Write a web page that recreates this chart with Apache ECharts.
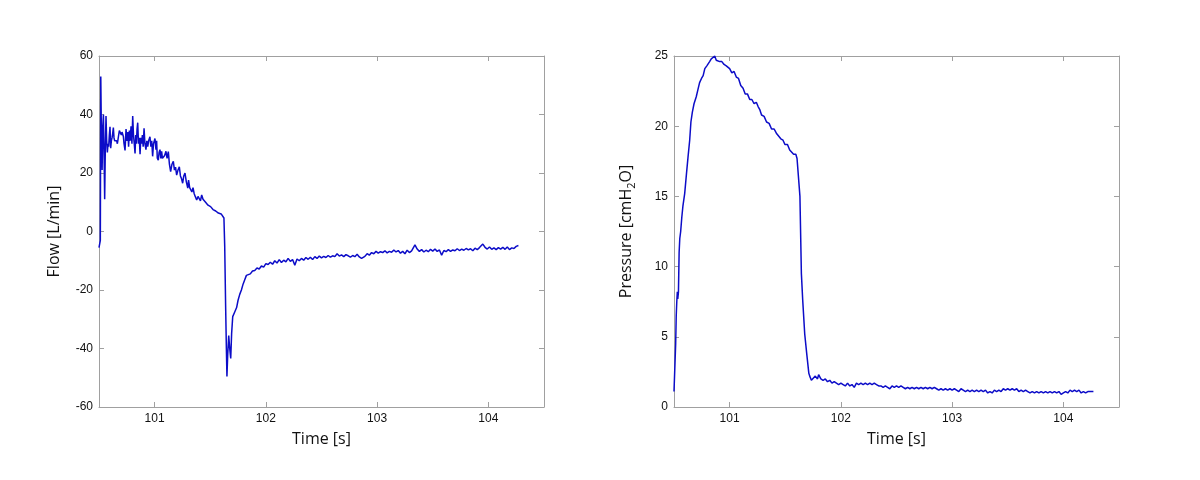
<!DOCTYPE html>
<html>
<head>
<meta charset="utf-8">
<script src="https://cdn.jsdelivr.net/npm/echarts@6/dist/echarts.min.js"></script>
<style>html,body{margin:0;padding:0;background:#fff;}#c{width:1200px;height:480px;}</style>
</head>
<body>
<div id="c"></div>
<script>
// ---- data ----
const timeTicks = [101, 102, 103, 104];

const flowTime = [
100.500,100.508,100.512,100.516,100.522,100.528,100.534,100.540,100.546,100.551,
100.557,100.563,100.569,100.575,100.581,100.587,100.593,100.599,100.605,100.611,
100.617,100.623,100.629,100.635,100.641,100.647,100.653,100.659,100.665,100.671,
100.677,100.683,100.689,100.695,100.701,100.707,100.713,100.719,100.725,100.734,
100.743,100.752,100.760,100.766,100.773,100.780,100.788,100.796,100.803,100.810,
100.817,100.824,100.830,100.836,100.842,100.848,100.855,100.862,100.869,100.876,
100.883,100.890,100.897,100.905,100.913,100.922,100.930,100.938,100.946,100.958,
100.966,100.974,100.982,100.990,101.003,101.012,101.018,101.024,101.033,101.040,
101.048,101.056,101.063,101.070,101.078,101.090,101.102,101.112,101.123,101.133,
101.144,101.156,101.168,101.178,101.188,101.198,101.210,101.222,101.232,101.242,
101.252,101.262,101.273,101.285,101.298,101.305,101.315,101.325,101.335,101.345,
101.355,101.365,101.378,101.390,101.400,101.412,101.423,101.435,101.447,101.458,
101.468,101.480,101.492,101.503,101.513,101.525,101.537,101.549,101.561,101.573,
101.585,101.598,101.611,101.623,101.630,101.638,101.645,101.650,101.657,101.666,
101.675,101.684,101.692,101.702,101.720,101.737,101.750,101.765,101.780,101.795,
101.810,101.825,101.842,101.860,101.880,101.900,101.920,101.940,101.960,101.980,
102.00,102.02,102.04,102.06,102.08,102.10,102.12,102.14,102.16,102.18,
102.20,102.22,102.24,102.26,102.28,102.30,102.32,102.34,102.36,102.38,
102.40,102.42,102.44,102.46,102.48,102.50,102.52,102.54,102.56,102.58,
102.60,102.62,102.64,102.66,102.68,102.70,102.72,102.74,102.76,102.78,
102.80,102.82,102.84,102.86,102.876,102.89,102.91,102.93,102.95,102.97,
102.99,103.01,103.03,103.05,103.07,103.09,103.11,103.13,103.15,103.17,
103.19,103.21,103.23,103.25,103.27,103.29,103.31,103.34,103.36,103.38,
103.40,103.42,103.44,103.46,103.48,103.50,103.52,103.54,103.56,103.58,
103.60,103.62,103.64,103.66,103.68,103.70,103.72,103.74,103.76,103.78,
103.80,103.82,103.84,103.86,103.88,103.90,103.92,103.95,103.97,103.99,
104.01,104.03,104.05,104.07,104.09,104.11,104.13,104.15,104.17,104.19,
104.21,104.23,104.25,104.27
];
const flowValues = [
-5.5,-5.0,-3.0,53,32,21,36,40,25,11,
29,39.5,31,27,30,29,33,35.8,28.5,31,
32,33.5,35.5,32,31,31.5,30.5,31,30,31.5,
33,34.5,35,34,33,34,33.5,32.5,30,27.7,
35,31,34,29,34.5,31,36,30,39.5,33,
30,26.7,33,30,35,37.2,30,32,26.4,32,
30,33,29,35.3,30,28,31,29,31,32.4,
29,31,25.7,30,31.8,28,31,25.1,24.4,27,
28,25,27.4,25,24.5,26,27.4,25,27.3,23,
20.5,23,24,21,22,19.3,21,22.1,19,18,
16.5,19,20,17,14.8,17.6,15,14.5,13.5,15,
13,12,10.8,12,11.5,10.5,12.5,11,10.5,10,
9.6,9,9.5,8.5,8,7.5,7.8,7,6.8,6.3,
6.2,6,5.7,4.6,-5,-25,-40,-49.6,-42,-35.6,
-40,-43.4,-35,-29.1,-27.5,-26,-23.5,-21.5,-20,-18,
-16.5,-15,-15.5,-14.5,-13.5,-13.3,-12.5,-12.8,-11.8,-12.2,
-11,-11.3,-10.5,-11.2,-10,-10.8,-9.6,-10.6,-9.8,-10.4,
-9.2,-10.2,-9.6,-11.5,-9.4,-10,-9.2,-9.8,-8.9,-9.5,
-8.8,-9.6,-8.6,-9.2,-8.4,-9,-8.5,-8.9,-8.2,-8.8,
-8.3,-8.6,-7.6,-8.4,-8.0,-8.6,-7.9,-8.3,-8.8,-8.2,
-8.6,-7.8,-8.7,-9.2,-9.8,-8.5,-7.6,-8.1,-7.2,-7.6,
-6.8,-7.4,-6.9,-7.2,-6.6,-7.3,-6.8,-7.1,-6.3,-7.0,
-6.5,-7.4,-6.8,-7.6,-6.4,-7.2,-6.6,-4.6,-6.0,-6.8,
-6.2,-7.0,-6.4,-6.9,-6.1,-6.7,-6.0,-6.8,-6.3,-8.1,
-6.5,-6.9,-6.2,-6.8,-6.3,-6.6,-5.9,-6.5,-6.0,-6.4,
-5.8,-6.3,-5.9,-6.6,-5.7,-6.2,-5.5,-4.3,-5.4,-6.0,
-5.3,-6.1,-5.6,-6.2,-5.5,-6.0,-5.4,-6.1,-5.3,-6.2,
-5.6,-5.8,-5.1,-4.8
];

const pressureTime = [
100.500,100.509,100.515,100.520,100.525,100.530,100.534,100.540,100.546,100.552,
100.560,100.570,100.580,100.596,100.612,100.626,100.641,100.652,100.665,100.680,
100.700,100.715,100.730,100.747,100.762,100.777,100.795,100.820,100.835,100.851,
100.866,100.880,100.895,100.911,100.930,100.950,100.970,100.985,101.000,101.020,
101.040,101.060,101.080,101.100,101.121,101.140,101.160,101.181,101.200,101.220,
101.240,101.256,101.270,101.287,101.310,101.332,101.355,101.377,101.400,101.420,
101.436,101.460,101.480,101.497,101.520,101.540,101.557,101.575,101.595,101.606,
101.616,101.632,101.645,101.657,101.675,101.693,101.712,101.720,101.735,101.750,
101.77,101.79,101.80,101.82,101.84,101.86,101.88,101.90,101.92,101.94,
101.96,101.98,102.00,102.02,102.04,102.06,102.08,102.10,102.12,102.14,
102.16,102.18,102.20,102.22,102.24,102.26,102.28,102.30,102.32,102.34,
102.36,102.38,102.40,102.42,102.44,102.46,102.48,102.50,102.52,102.54,
102.56,102.58,102.60,102.62,102.64,102.66,102.68,102.70,102.72,102.74,
102.76,102.78,102.80,102.82,102.84,102.86,102.88,102.90,102.92,102.94,
102.96,102.98,103.00,103.02,103.04,103.06,103.08,103.10,103.12,103.14,
103.16,103.18,103.20,103.22,103.24,103.26,103.28,103.30,103.32,103.34,
103.36,103.38,103.40,103.42,103.44,103.46,103.48,103.50,103.52,103.54,
103.56,103.58,103.60,103.62,103.64,103.66,103.68,103.70,103.72,103.74,
103.76,103.78,103.80,103.82,103.84,103.86,103.88,103.90,103.92,103.94,
103.96,103.98,104.00,104.02,104.04,104.06,104.08,104.10,104.12,104.14,
104.16,104.18,104.20,104.22,104.24,104.27
];
const pressureValues = [
1.1,1.1,4.5,6.5,7.5,8.2,7.7,8.2,11,12,
12.5,13.5,14.3,15.2,16.6,17.8,19.0,20.3,21.0,21.6,
22.1,22.6,23.1,23.4,23.6,24.1,24.3,24.6,24.8,24.9,
25.0,24.7,24.8,24.6,24.6,24.4,24.3,24.2,24.1,23.8,
23.9,23.5,23.4,22.9,22.7,22.3,22.3,21.9,21.9,21.6,
21.7,21.4,21.2,20.8,20.7,20.3,20.2,19.8,19.8,19.5,
19.5,19.1,19.0,18.7,18.7,18.3,18.3,18.0,18.0,17.7,
17.6,15.0,9.5,7.6,5.2,3.8,2.4,2.2,1.9,2.0,
2.2,2.0,2.3,2.0,1.9,2.0,1.8,1.9,1.7,1.8,
1.7,1.6,1.7,1.6,1.5,1.7,1.5,1.6,1.4,1.7,
1.6,1.7,1.6,1.7,1.6,1.7,1.6,1.7,1.6,1.5,
1.5,1.4,1.5,1.4,1.3,1.5,1.4,1.5,1.4,1.5,
1.4,1.3,1.4,1.3,1.4,1.3,1.4,1.3,1.4,1.3,
1.4,1.3,1.4,1.3,1.4,1.3,1.2,1.3,1.2,1.3,
1.2,1.3,1.2,1.3,1.2,1.1,1.3,1.2,1.1,1.2,
1.1,1.2,1.1,1.2,1.1,1.2,1.1,1.2,1.0,1.1,
1.0,1.2,1.1,1.2,1.1,1.3,1.2,1.3,1.2,1.3,
1.2,1.3,1.1,1.2,1.1,1.2,1.1,1.0,1.1,1.0,
1.1,1.0,1.1,1.0,1.1,1.0,1.1,1.0,1.1,1.0,
1.1,0.9,1.0,1.1,1.0,1.2,1.1,1.2,1.1,1.2,
1.0,1.1,1.0,1.1,1.1,1.1
];

// ---- chart ----
const lineColor = '#0c0cc8';
const boxColor = '#a0a0a0';
const tickFont = { color: '#111', fontFamily: 'Liberation Sans', fontSize: 12 };
const nameFont = { color: '#111', fontFamily: 'Open Sans', fontSize: 16 };

function xAxes(gi) {
  return [
    { type: 'value', gridIndex: gi, position: 'bottom', min: 100.5, max: 104.5,
      name: 'Time [s]', nameLocation: 'middle', nameGap: 24, nameTextStyle: nameFont,
      axisLine: { show: true, onZero: false, lineStyle: { color: boxColor, width: 1 } },
      axisTick: { show: true, inside: true, length: 5, customValues: timeTicks, lineStyle: { color: boxColor } },
      axisLabel: { show: true, customValues: timeTicks, margin: 6, ...tickFont },
      splitLine: { show: false } },
    { type: 'value', gridIndex: gi, position: 'top', min: 100.5, max: 104.5,
      axisLine: { show: true, onZero: false, lineStyle: { color: boxColor, width: 1 } },
      axisTick: { show: true, inside: true, length: 5, customValues: timeTicks, lineStyle: { color: boxColor } },
      axisLabel: { show: false }, splitLine: { show: false } }
  ];
}
function yAxes(gi, min, max, interval, name, rich) {
  return [
    { type: 'value', gridIndex: gi, position: 'left', min: min, max: max, interval: interval,
      name: name, nameLocation: 'middle', nameGap: 37,
      nameTextStyle: Object.assign({}, nameFont, rich ? { rich: rich, lineHeight: 22 } : {}),
      axisLine: { show: true, onZero: false, lineStyle: { color: boxColor, width: 1 } },
      axisTick: { show: true, inside: true, length: 5, lineStyle: { color: boxColor } },
      axisLabel: { show: true, margin: 6, ...tickFont },
      splitLine: { show: false } },
    { type: 'value', gridIndex: gi, position: 'right', min: min, max: max, interval: interval,
      axisLine: { show: true, onZero: false, lineStyle: { color: boxColor, width: 1 } },
      axisTick: { show: true, inside: true, length: 5, lineStyle: { color: boxColor } },
      axisLabel: { show: false }, splitLine: { show: false } }
  ];
}

const chart = echarts.init(document.getElementById('c'), null, { renderer: 'canvas' });
const subRich = {
  main: { fontFamily: 'Open Sans', fontSize: 16, color: '#111', lineHeight: 22 },
  sub: { fontFamily: 'Open Sans', fontSize: 11, color: '#111', lineHeight: 11, verticalAlign: 'bottom' }
};
chart.setOption({
  animation: false,
  backgroundColor: '#fff',
  grid: [
    { left: 99, top: 56, width: 445, height: 351, outerBoundsMode: 'none', containLabel: false },
    { left: 674, top: 56, width: 445, height: 351, outerBoundsMode: 'none', containLabel: false }
  ],
  xAxis: [...xAxes(0), ...xAxes(1)],
  yAxis: [
    ...yAxes(0, -60, 60, 20, 'Flow [L/min]'),
    ...yAxes(1, 0, 25, 5, '{main|Pressure [cmH}{sub|2}{main|O]}', subRich)
  ],
  series: [
    { type: 'line', xAxisIndex: 0, yAxisIndex: 0, showSymbol: false, symbol: 'none',
      data: flowTime.map((t, i) => [t, flowValues[i]]),
      lineStyle: { color: lineColor, width: 1.5 }, itemStyle: { color: lineColor } },
    { type: 'line', xAxisIndex: 2, yAxisIndex: 2, showSymbol: false, symbol: 'none',
      data: pressureTime.map((t, i) => [t, pressureValues[i]]),
      lineStyle: { color: lineColor, width: 1.5 }, itemStyle: { color: lineColor } }
  ]
});
</script>
</body>
</html>
